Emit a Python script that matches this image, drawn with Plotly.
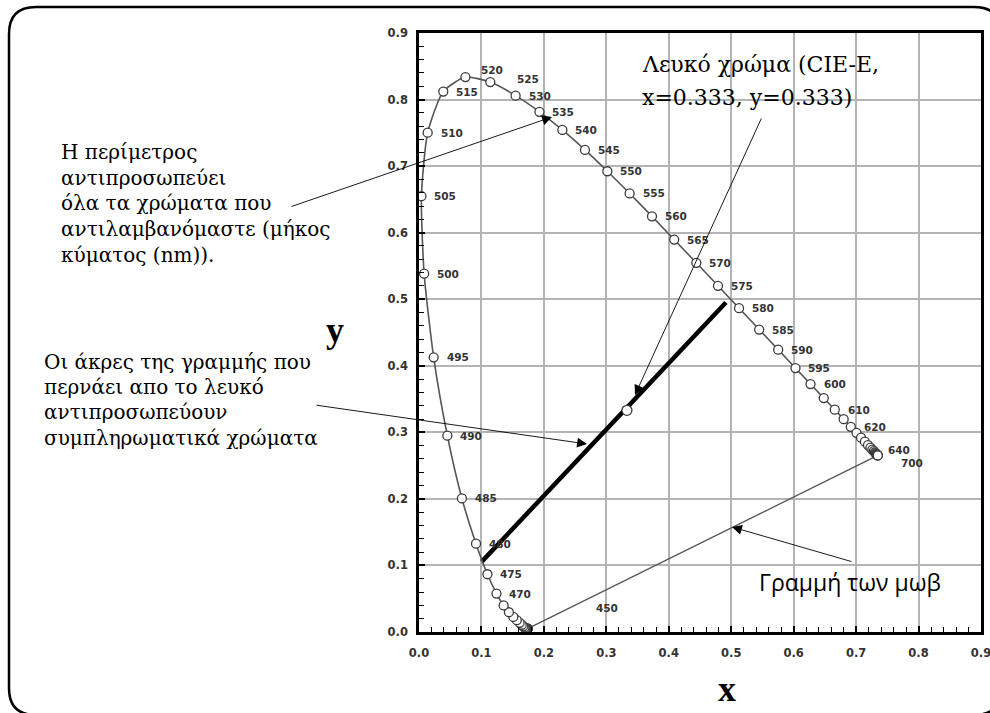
import plotly.graph_objects as go

# ---------------- data ----------------
wavelengths = [380, 385, 390, 395, 400, 405, 410, 415, 420, 425, 430, 435, 440, 445,
               450, 455, 460, 465, 470, 475, 480, 485, 490, 495, 500, 505, 510, 515,
               520, 525, 530, 535, 540, 545, 550, 555, 560, 565, 570, 575, 580, 585,
               590, 595, 600, 605, 610, 615, 620, 625, 630, 635, 640, 645, 650, 655,
               660, 665, 670, 675, 680, 685, 690, 695, 700]
cie_x = [0.1741, 0.1740, 0.1738, 0.1736, 0.1733, 0.1730, 0.1726, 0.1721, 0.1714, 0.1703,
         0.1689, 0.1669, 0.1644, 0.1611, 0.1566, 0.1510, 0.1440, 0.1355, 0.1241, 0.1096,
         0.0913, 0.0687, 0.0454, 0.0235, 0.0082, 0.0039, 0.0139, 0.0389, 0.0743, 0.1142,
         0.1547, 0.1929, 0.2296, 0.2658, 0.3016, 0.3373, 0.3731, 0.4087, 0.4441, 0.4788,
         0.5125, 0.5448, 0.5752, 0.6029, 0.6270, 0.6482, 0.6658, 0.6801, 0.6915, 0.7006,
         0.7079, 0.7140, 0.7190, 0.7230, 0.7260, 0.7283, 0.7300, 0.7311, 0.7320, 0.7327,
         0.7334, 0.7340, 0.7344, 0.7346, 0.7347]
cie_y = [0.0050, 0.0050, 0.0049, 0.0049, 0.0048, 0.0048, 0.0048, 0.0048, 0.0051, 0.0058,
         0.0069, 0.0086, 0.0109, 0.0138, 0.0177, 0.0227, 0.0297, 0.0399, 0.0578, 0.0868,
         0.1327, 0.2007, 0.2950, 0.4127, 0.5384, 0.6548, 0.7502, 0.8120, 0.8338, 0.8262,
         0.8059, 0.7816, 0.7543, 0.7243, 0.6923, 0.6589, 0.6245, 0.5896, 0.5547, 0.5202,
         0.4866, 0.4544, 0.4242, 0.3965, 0.3725, 0.3514, 0.3340, 0.3197, 0.3083, 0.2993,
         0.2920, 0.2859, 0.2809, 0.2770, 0.2740, 0.2717, 0.2700, 0.2689, 0.2680, 0.2673,
         0.2666, 0.2660, 0.2656, 0.2654, 0.2653]

labeled_wl = [470, 475, 480, 485, 490, 495, 500, 505, 510, 515, 520, 525, 530, 535,
              540, 545, 550, 555, 560, 565, 570, 575, 580, 585, 590, 595, 600, 610,
              620, 640, 700]

white_x = [0.333]
white_y = [0.333]

comp_line_x = [0.1005, 0.4915]
comp_line_y = [0.1057, 0.4950]

purple_x = [cie_x[0], cie_x[-1]]
purple_y = [cie_y[0], cie_y[-1]]

tick_vals = [0.0, 0.1, 0.2, 0.3, 0.4, 0.5, 0.6, 0.7, 0.8, 0.9]
tick_text = ["0.0", "0.1", "0.2", "0.3", "0.4", "0.5", "0.6", "0.7", "0.8", "0.9"]

text_perimeter = ["Η περίμετρος", "αντιπροσωπεύει", "όλα τα χρώματα που",
                  "αντιλαμβανόμαστε (μήκος", "κύματος (nm))."]
text_complement = ["Οι άκρες της γραμμής που", "περνάει απο το λευκό",
                   "αντιπροσωπεύουν", "συμπληρωματικά χρώματα"]
text_white = ["Λευκό χρώμα (CIE-E,", "x=0.333, y=0.333)"]
text_purple = "Γραμμή των μωβ"

# ---------------- layout geometry (pixels) ----------------
FW, FH = 990, 713
L, R, T, B = 419, 981, 33, 632
PW, PH = R - L, B - T


def px(xp):
    return (xp - L) / PW


def py(yp):
    return (B - yp) / PH


SERIF = "DejaVu Serif"
TITLESERIF = "Liberation Serif"
TICKFONT = dict(family="DejaVu Sans", size=11.5, color="#333333", weight="bold")
LABFONT = dict(family="DejaVu Sans", size=10.5, color="#333333", weight="bold")

fig = go.Figure()

# purple line
fig.add_trace(go.Scatter(x=purple_x, y=purple_y, mode="lines",
                         line=dict(color="#555555", width=1.3),
                         hoverinfo="skip", showlegend=False))
# complementary line
fig.add_trace(go.Scatter(x=comp_line_x, y=comp_line_y, mode="lines",
                         line=dict(color="black", width=4.5),
                         hoverinfo="skip", showlegend=False))
# spectral locus
fig.add_trace(go.Scatter(x=cie_x, y=cie_y, mode="lines+markers",
                         line=dict(color="#555555", width=1.6, shape="spline", smoothing=0.6),
                         marker=dict(symbol="circle", size=9, color="white",
                                     line=dict(color="#3a3a3a", width=1.3)),
                         text=[str(w) for w in wavelengths],
                         hoverinfo="text", showlegend=False))
# white point
fig.add_trace(go.Scatter(x=white_x, y=white_y, mode="markers",
                         marker=dict(symbol="circle", size=10, color="white",
                                     line=dict(color="#3a3a3a", width=1.3)),
                         hoverinfo="skip", showlegend=False))

annotations = []

# wavelength labels
special_shift = {520: (27, 7), 525: (38, 3), 640: (31, -5), 700: (34, -8)}
for wl in labeled_wl:
    i = wavelengths.index(wl)
    xs, ys = special_shift.get(wl, (24, 0))
    annotations.append(dict(x=cie_x[i], y=cie_y[i], xref="x", yref="y", text=str(wl),
                            showarrow=False, xshift=xs, yshift=ys,
                            xanchor="center", yanchor="middle", font=LABFONT))
# 450 label (placed away from its point in the original)
annotations.append(dict(x=px(607), y=py(608), xref="paper", yref="paper", text="450",
                        showarrow=False, xanchor="center", yanchor="middle", font=LABFONT))

# text blocks
for k, line in enumerate(text_perimeter):
    annotations.append(dict(x=px(59), y=py(152 + 25.7 * k), xref="paper", yref="paper",
                            text=line, showarrow=False, xanchor="left", yanchor="middle",
                            font=dict(family=SERIF, size=20, color="black")))
for k, line in enumerate(text_complement):
    annotations.append(dict(x=px(42), y=py(362 + 25.2 * k), xref="paper", yref="paper",
                            text=line, showarrow=False, xanchor="left", yanchor="middle",
                            font=dict(family=SERIF, size=20, color="black")))
for k, line in enumerate(text_white):
    annotations.append(dict(x=px(640), y=py(64 + 33 * k), xref="paper", yref="paper",
                            text=line, showarrow=False, xanchor="left", yanchor="middle",
                            font=dict(family=SERIF, size=22, color="black")))
annotations.append(dict(x=px(757), y=py(582), xref="paper", yref="paper",
                        text=text_purple, showarrow=False, xanchor="left", yanchor="middle",
                        font=dict(family="Open Sans", size=23, color="black")))

# axis titles
annotations.append(dict(x=px(335), y=py(330), xref="paper", yref="paper", text="y",
                        showarrow=False, xanchor="center", yanchor="middle",
                        font=dict(family=TITLESERIF, size=36, color="black", weight="bold")))
annotations.append(dict(x=px(727), y=py(689), xref="paper", yref="paper", text="x",
                        showarrow=False, xanchor="center", yanchor="middle",
                        font=dict(family=TITLESERIF, size=36, color="black", weight="bold")))

# arrows (head, tail in pixels)
arrows = [((552, 117), (290, 207)),
          ((587, 444), (315, 405)),
          ((635, 395), (762, 117)),
          ((732, 527), (853, 562))]
for (hx, hy), (tx, ty) in arrows:
    annotations.append(dict(x=px(hx), y=py(hy), xref="paper", yref="paper", text="",
                            showarrow=True, ax=tx - hx, ay=ty - hy,
                            arrowhead=2, arrowsize=2.2, arrowwidth=0.9, arrowcolor="black",
                            standoff=0, startstandoff=0))

# shapes: white boxes behind texts, outer rounded frame
shapes = [
    dict(type="rect", xref="paper", yref="paper", x0=px(632), x1=px(888), y0=py(117), y1=py(45),
         fillcolor="white", line=dict(width=0), layer="between"),
    dict(type="rect", xref="paper", yref="paper", x0=px(747), x1=px(957), y0=py(602), y1=py(563),
         fillcolor="white", line=dict(width=0), layer="between"),
]
x0f, x1f, y0f, y1f, r = 9, 1001, 7, 715, 27
path = (f"M {px(x0f + r)},{py(y0f)} L {px(x1f - r)},{py(y0f)} "
        f"Q {px(x1f)},{py(y0f)} {px(x1f)},{py(y0f + r)} "
        f"L {px(x1f)},{py(y1f - r)} Q {px(x1f)},{py(y1f)} {px(x1f - r)},{py(y1f)} "
        f"L {px(x0f + r)},{py(y1f)} Q {px(x0f)},{py(y1f)} {px(x0f)},{py(y1f - r)} "
        f"L {px(x0f)},{py(y0f + r)} Q {px(x0f)},{py(y0f)} {px(x0f + r)},{py(y0f)} Z")
shapes.append(dict(type="path", xref="paper", yref="paper", path=path,
                   line=dict(color="black", width=2.5), layer="above"))

axis_common = dict(range=[0, 0.9], tickvals=tick_vals, ticktext=tick_text,
                   showgrid=True, gridcolor="#b4b4b4", gridwidth=1.6,
                   showline=True, linecolor="black", linewidth=2.6, mirror=True,
                   ticks="inside", ticklen=6, tickwidth=1.5, tickcolor="black",
                   minor=dict(ticks="inside", ticklen=5, tickwidth=1.3, tickcolor="black",
                              dtick=0.02, tick0=0, showgrid=False),
                   tickfont=TICKFONT, zeroline=False, fixedrange=True, automargin=False,
                   ticklabeloverflow="allow")

fig.update_layout(
    width=FW, height=FH, autosize=False,
    margin=dict(l=L, r=FW - R, t=T, b=FH - B, pad=0, autoexpand=False),
    paper_bgcolor="white", plot_bgcolor="white",
    xaxis=dict(**axis_common, ticklabelstandoff=8),
    yaxis=dict(**axis_common, ticklabelstandoff=6),
    annotations=annotations, shapes=shapes,
    showlegend=False,
)

post = ("document.body.style.margin='0';document.body.style.padding='0';"
        "document.body.style.overflow='hidden';"
        "var gd=document.getElementById('{plot_id}');"
        "Plotly.relayout(gd,{width:990,height:713});")

fig.write_html("out.html", post_script=post,
               config={"responsive": False, "displayModeBar": False})
